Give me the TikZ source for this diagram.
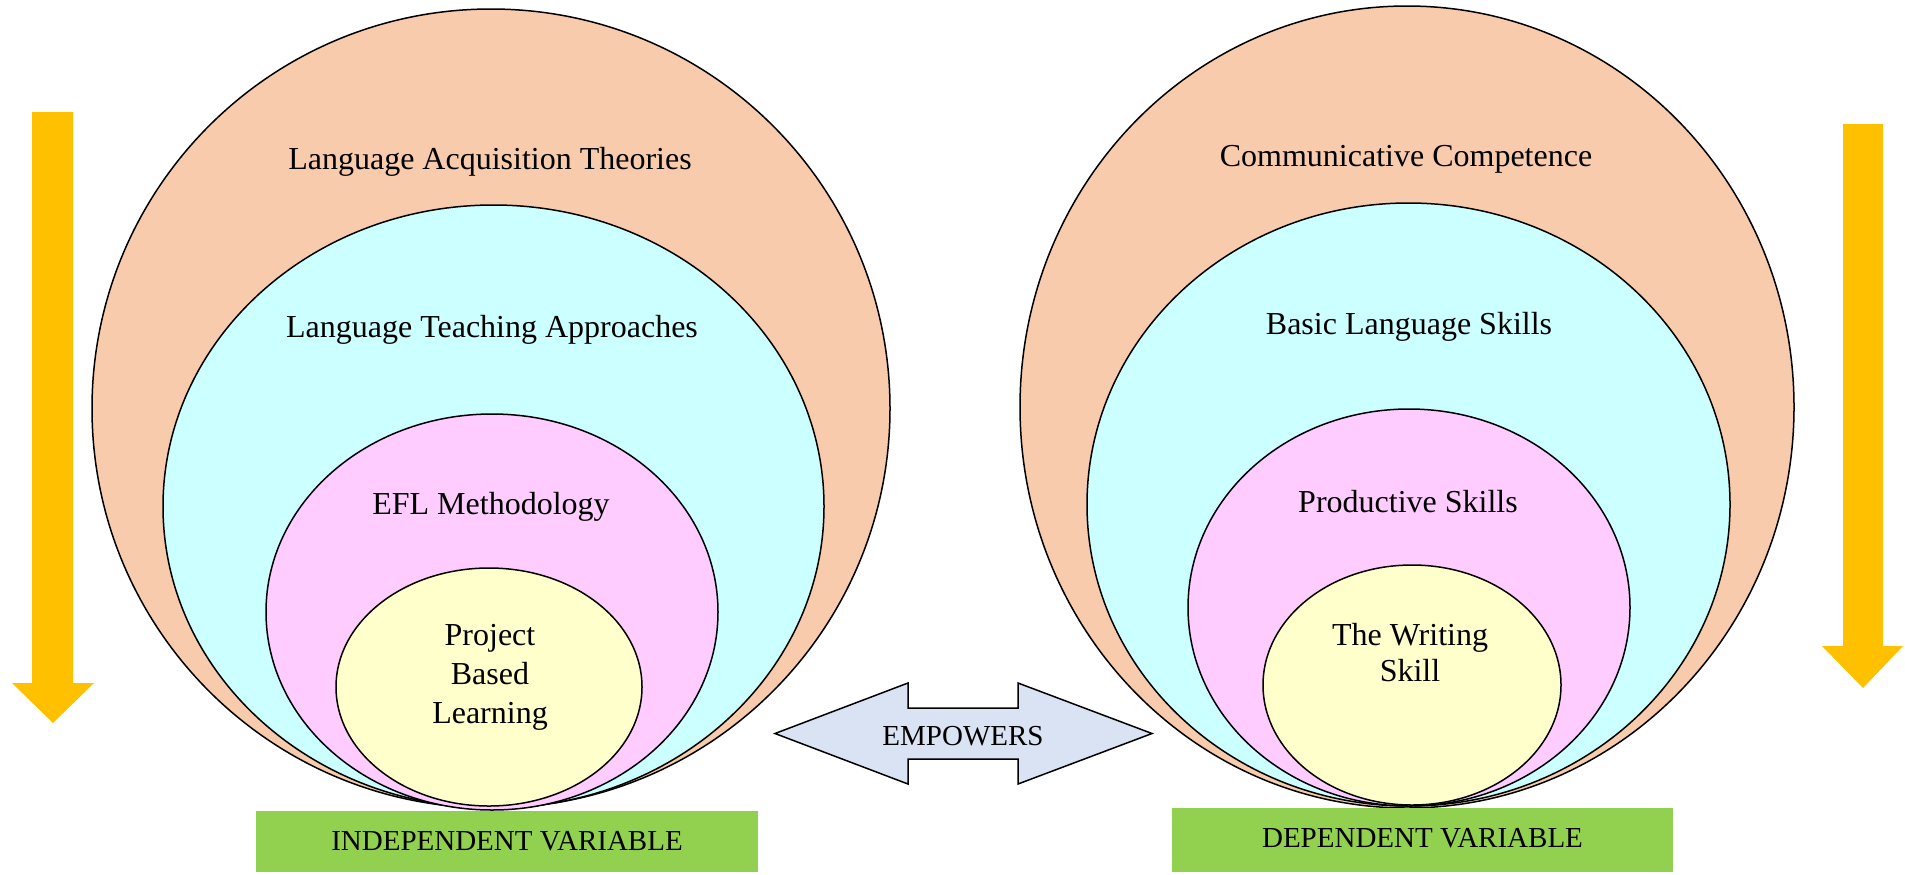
\documentclass[tikz,border=0pt]{standalone}
\usepackage{fontspec}
\setmainfont{Liberation Serif}
\definecolor{peach}{HTML}{F8CBAD}
\definecolor{aqua}{HTML}{CCFFFF}
\definecolor{orchid}{HTML}{FFCCFF}
\definecolor{cream}{HTML}{FFFFCC}
\definecolor{gold}{HTML}{FFC000}
\definecolor{vargreen}{HTML}{92D050}
\definecolor{steel}{HTML}{DAE3F3}
\begin{document}
\begin{tikzpicture}[x=0.5pt,y=-0.5pt,
  ring/.style={draw, line width=0.75pt},
  ringtext/.style={font=\fontsize{16}{19.5}\selectfont, align=center, inner sep=0pt},
  varbox/.style={fill=vargreen, inner sep=0pt, font=\fontsize{14.5}{17}\selectfont},
  flow/.style={fill=gold}]
\useasboundingbox (0,0) rectangle (1905,874);
% left circles
\draw[ring, fill=peach]  (491,408.5) ellipse [x radius=399, y radius=399.5];
\draw[ring, fill=aqua]   (493.5,506.5) ellipse [x radius=330.5, y radius=301.5];
\draw[ring, fill=orchid] (492,612) ellipse [x radius=226, y radius=198];
\draw[ring, fill=cream]  (489,687) ellipse [x radius=153, y radius=119];
\node[ringtext] (acq) at (490,162) {Language Acquisition Theories};
\node[ringtext] (teach) at (492,330) {Language Teaching Approaches};
\node[ringtext] (efl) at (491,507) {EFL Methodology};
\node[ringtext] (pbl) at (490,677) {Project\\Based\\Learning};
% right circles
\draw[ring, fill=peach]  (1407,407) ellipse [x radius=387, y radius=401];
\draw[ring, fill=aqua]   (1408.5,504.5) ellipse [x radius=321.5, y radius=301.5];
\draw[ring, fill=orchid] (1409,607.5) ellipse [x radius=221, y radius=198.5];
\draw[ring, fill=cream]  (1412,685) ellipse [x radius=149, y radius=120];
\node[ringtext] (comp) at (1406,159.5) {Communicative Competence};
\node[ringtext] (basic) at (1409,327) {Basic Language Skills};
\node[ringtext] (prod) at (1408,502) {Productive Skills};
\node[ringtext, font=\fontsize{16}{18}\selectfont] (writ) at (1410,653) {The Writing\\Skill};
% variables
\node[varbox, minimum width=251pt, minimum height=30.5pt] (indep) at (507,841.5) {\raisebox{-1pt}{INDEPENDENT VARIABLE}};
\node[varbox, minimum width=250.5pt, minimum height=32pt] (dep) at (1422.5,840) {\raisebox{2.5pt}{DEPENDENT VARIABLE}};
% downward arrows
\fill[flow] (32,112) -- (73,112) -- (73,683) -- (94,683) -- (53,723) -- (12,683) -- (32,683) -- cycle;
\fill[flow] (1843,124) -- (1883,124) -- (1883,646) -- (1903,646) -- (1863,688) -- (1822,646) -- (1843,646) -- cycle;
% empowers
\draw[fill=steel, line width=0.75pt] (775,733.5) -- (908,683) -- (908,708) -- (1018,708) -- (1018,683)
  -- (1152,733.5) -- (1018,784) -- (1018,759) -- (908,759) -- (908,784) -- cycle;
\node[font=\fontsize{14.5}{17}\selectfont, inner sep=0pt] (emp) at (963,736) {EMPOWERS};
\end{tikzpicture}
\end{document}
